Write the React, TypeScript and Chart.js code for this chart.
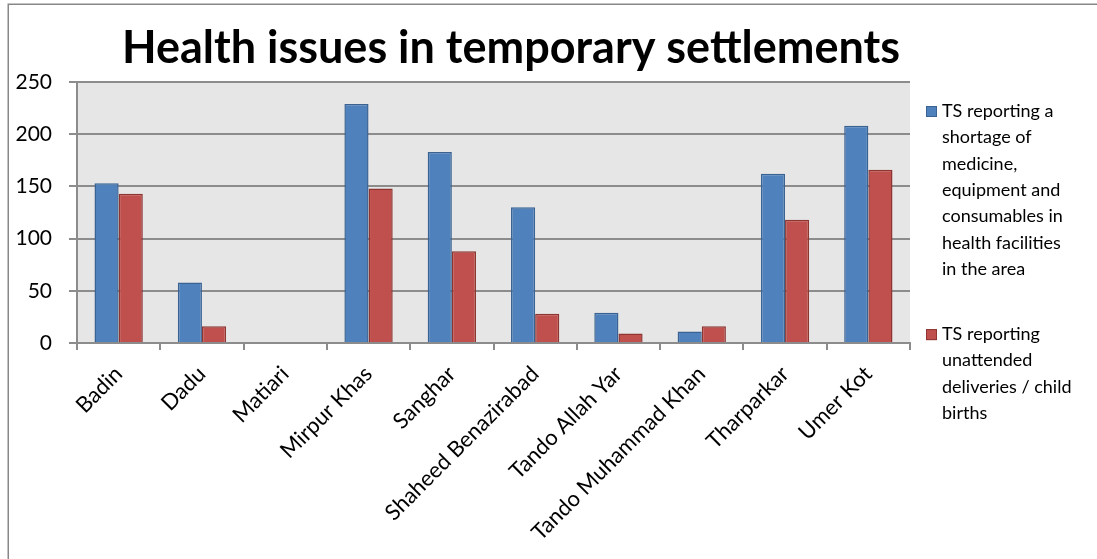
import React, { useEffect, useRef } from "react";
import { Chart, registerables } from "chart.js";

Chart.register(...registerables);

const categories = [
  "Badin",
  "Dadu",
  "Matiari",
  "Mirpur Khas",
  "Sanghar",
  "Shaheed Benazirabad",
  "Tando Allah Yar",
  "Tando Muhammad Khan",
  "Tharparkar",
  "Umer Kot",
];
const shortageValues = [153, 58, 1, 229, 183, 130, 29, 11, 162, 208];
const unattendedValues = [143, 16, 0, 148, 88, 28, 9, 16, 118, 166];
const seriesLabels = [
  "TS reporting a shortage of medicine, equipment and consumables in health facilities in the area",
  "TS reporting unattended deliveries / child births",
];
const titleText = "Health issues in temporary settlements";
const yMin = 0;
const yMax = 250;
const yStep = 50;

const FONT = "Lato, 'Open Sans', sans-serif";
const GRID = "#8c8c8c";

const framePlugin = {
  id: "frame",
  beforeDraw(chart: any) {
    const { ctx, chartArea } = chart;
    ctx.save();
    ctx.fillStyle = "#ffffff";
    ctx.fillRect(0, 0, chart.width, chart.height);
    ctx.strokeStyle = "#878787";
    ctx.lineWidth = 1.5;
    ctx.strokeRect(8.25, 4.25, chart.width + 20, chart.height + 20);
    ctx.fillStyle = "#e6e6e6";
    ctx.fillRect(
      chartArea.left,
      chartArea.top,
      chartArea.right - chartArea.left,
      chartArea.bottom - chartArea.top
    );
    ctx.restore();
  },
  afterDraw(chart: any) {
    const { ctx } = chart;
    ctx.save();
    // title
    ctx.font = `bold 45px ${FONT}`;
    ctx.fillStyle = "#000";
    ctx.textAlign = "center";
    ctx.textBaseline = "alphabetic";
    ctx.fillText(titleText, 511, 63);

    // legend
    ctx.font = `18px ${FONT}`;
    ctx.textAlign = "left";
    const limit = (145 * ctx.measureText("deliveries / child").width) / 142;
    const lineH = 26.3;
    let y = 117;
    chart.data.datasets.forEach((ds: any) => {
      const words = String(ds.label).split(" ");
      const lines: string[] = [];
      let cur = "";
      words.forEach((w) => {
        const test = cur ? cur + " " + w : w;
        if (ctx.measureText(test).width > limit && cur) {
          lines.push(cur);
          cur = w;
        } else cur = test;
      });
      if (cur) lines.push(cur);
      ctx.fillStyle = ds.backgroundColor;
      ctx.fillRect(926, y - 11, 11, 11);
      ctx.strokeStyle = ds.borderColor;
      ctx.lineWidth = 1;
      ctx.strokeRect(926.5, y - 10.5, 10, 10);
      ctx.fillStyle = "#000";
      lines.forEach((l, i) => ctx.fillText(l, 942, y + i * lineH));
      y += lines.length * lineH + 39;
    });
    ctx.restore();
  },
};

export default function App() {
  const ref = useRef<HTMLCanvasElement>(null);
  useEffect(() => {
    if (!ref.current) return;
    const chart = new Chart(ref.current, {
      type: "bar",
      data: {
        labels: categories,
        datasets: [
          {
            label: seriesLabels[0],
            data: shortageValues,
            backgroundColor: "#4f81bd",
            borderColor: "#3a6393",
            borderWidth: 1.5,
            categoryPercentage: 0.58,
            barPercentage: 1,
          },
          {
            label: seriesLabels[1],
            data: unattendedValues,
            backgroundColor: "#c0504d",
            borderColor: "#8e3532",
            borderWidth: 1.5,
            categoryPercentage: 0.58,
            barPercentage: 1,
          },
        ],
      },
      options: {
        responsive: false,
        animation: false,
        layout: { padding: { top: 82, right: 187, left: 0, bottom: 0 } },
        plugins: {
          legend: { display: false },
          title: { display: false },
          tooltip: { enabled: false },
        },
        scales: {
          x: {
            grid: {
              drawOnChartArea: false,
              drawTicks: true,
              tickLength: 7,
              color: GRID,
              lineWidth: 2,
            },
            border: { color: GRID, width: 2 },
            ticks: {
              font: { family: FONT, size: 22 },
              color: "#000",
              maxRotation: 45,
              minRotation: 45,
              autoSkip: false,
              padding: 11,
            },
            afterFit: (s: any) => {
              s.height = 216;
            },
          },
          y: {
            min: yMin,
            max: yMax,
            ticks: {
              stepSize: yStep,
              font: { family: FONT, size: 21 },
              color: "#000",
              padding: 17,
            },
            grid: { color: GRID, lineWidth: 2, tickLength: 8 },
            border: { color: GRID, width: 2 },
            afterFit: (s: any) => {
              s.width = 77;
            },
          },
        },
      },
      plugins: [framePlugin],
    });
    return () => chart.destroy();
  }, []);
  return (
    <canvas
      ref={ref}
      width={1097}
      height={559}
      style={{ position: "fixed", left: 0, top: 0, display: "block" }}
    />
  );
}
